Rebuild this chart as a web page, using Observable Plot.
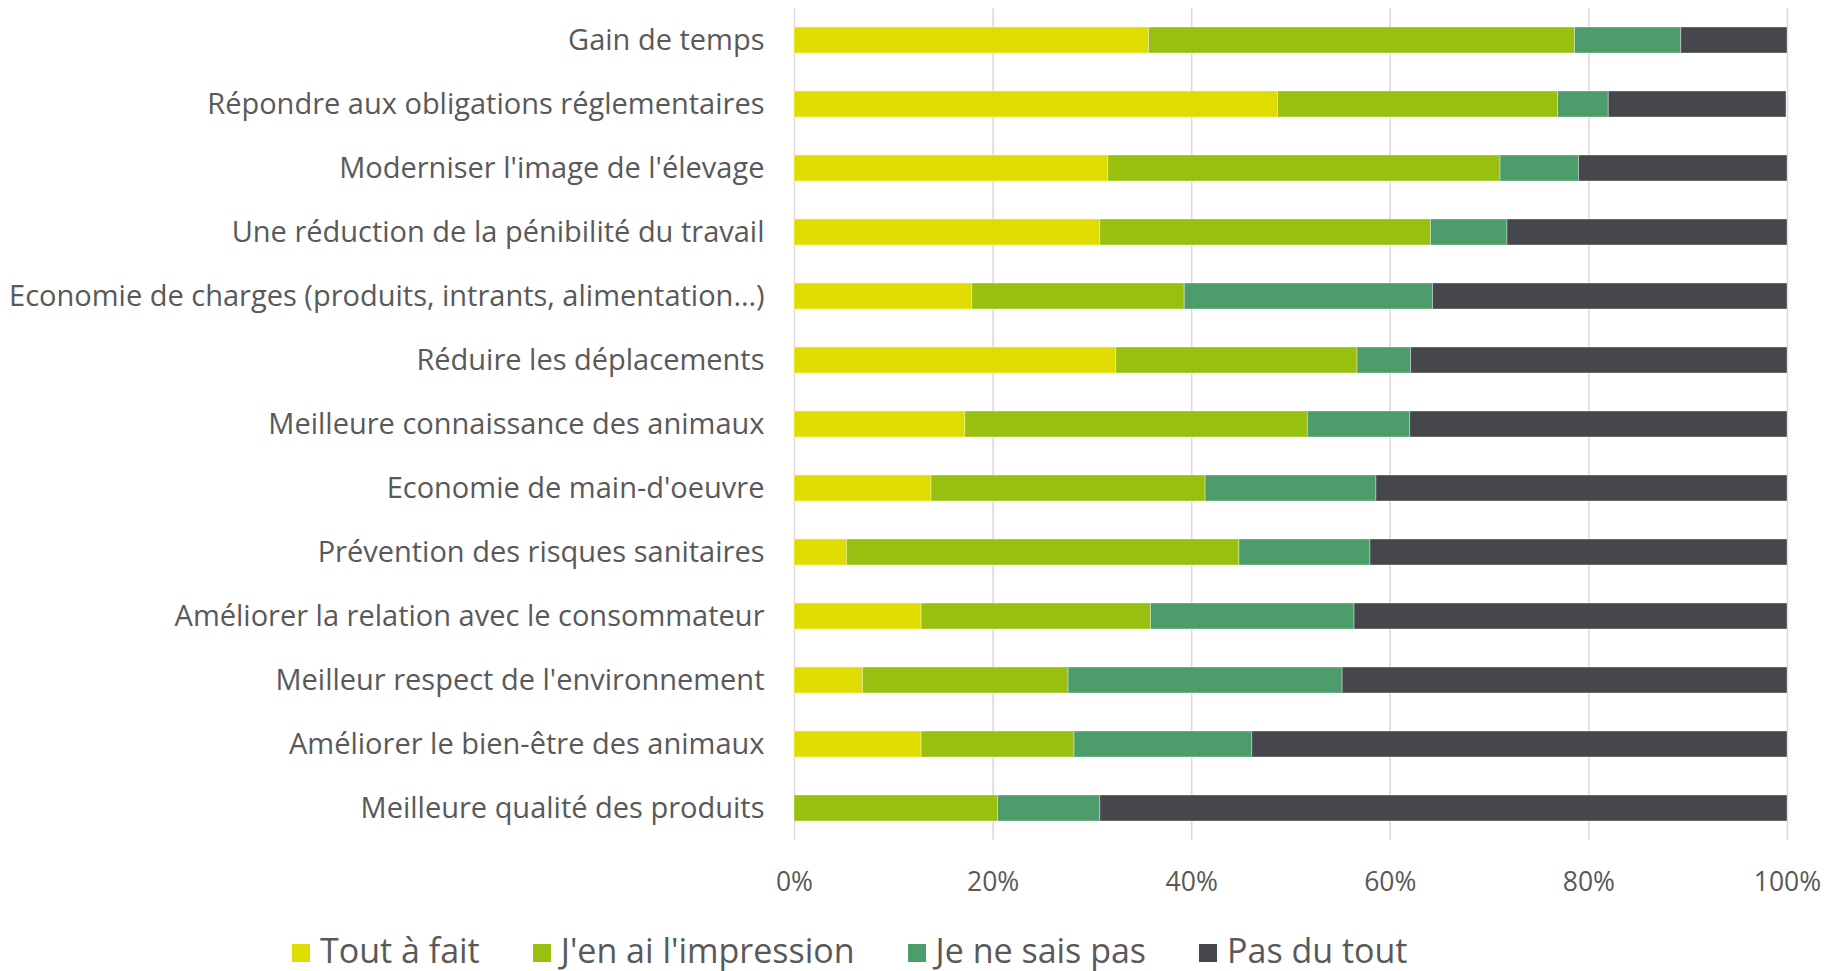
<!DOCTYPE html>
<html>
<head>
<meta charset="utf-8">
<script src="https://cdn.jsdelivr.net/npm/d3@7"></script>
<script src="https://cdn.jsdelivr.net/npm/@observablehq/plot@0.6"></script>
<style>
  html, body { margin: 0; padding: 0; background: #fff; }
  #wrap { position: relative; width: 1837px; height: 971px; font-family: "Open Sans", sans-serif; }
  #legend { position: absolute; top: 927px; left: 292px; display: flex; align-items: center; font-size: 34px; line-height: normal; color: #595959; white-space: nowrap; }
  .item { display: flex; align-items: center; margin-right: 53px; }
  .sw { width: 18px; height: 18px; margin-right: 10px; margin-top: 6px; }
</style>
</head>
<body>
<div id="wrap">
  <div id="chart"></div>
  <div id="legend"></div>
</div>
<script>
const categories = [
  "Gain de temps",
  "Répondre aux obligations réglementaires",
  "Moderniser l'image de l'élevage",
  "Une réduction de la pénibilité du travail",
  "Economie de charges (produits, intrants, alimentation…)",
  "Réduire les déplacements",
  "Meilleure connaissance des animaux",
  "Economie de main-d'oeuvre",
  "Prévention des risques sanitaires",
  "Améliorer la relation avec le consommateur",
  "Meilleur respect de l'environnement",
  "Améliorer le bien-être des animaux",
  "Meilleure qualité des produits"
];
const series = ["Tout à fait", "J'en ai l'impression", "Je ne sais pas", "Pas du tout"];
const colors = ["#dedc00", "#99bf0f", "#4d9c6c", "#46474c"];

const toutAFait  = [35.7, 48.7, 31.6, 30.8, 17.9, 32.4, 17.2, 13.8,  5.3, 12.8,  6.9, 12.8,  0.0];
const jenAi      = [42.9, 28.2, 39.5, 33.3, 21.4, 24.3, 34.5, 27.6, 39.5, 23.1, 20.7, 15.4, 20.5];
const neSaisPas  = [10.7,  5.1,  7.9,  7.7, 25.0,  5.4, 10.3, 17.2, 13.2, 20.5, 27.6, 17.9, 10.3];
const pasDuTout  = [10.7, 17.9, 21.0, 28.2, 35.7, 37.9, 38.0, 41.4, 42.0, 43.6, 44.8, 53.9, 69.2];

const xTicks = [0, 20, 40, 60, 80, 100];

const valuesBySeries = [toutAFait, jenAi, neSaisPas, pasDuTout];
const data = [];
categories.forEach((c, i) => {
  series.forEach((s, j) => {
    data.push({ category: c, series: s, value: valuesBySeries[j][i] });
  });
});

const chart = Plot.plot({
  width: 1837,
  height: 915,
  marginTop: 8,
  marginBottom: 75,
  marginLeft: 794,
  marginRight: 50,
  style: { fontFamily: "Open Sans, sans-serif", color: "#595959", background: "#fff" },
  x: { domain: [0, 100], ticks: xTicks, label: null },
  y: { domain: categories, paddingInner: 0.6, paddingOuter: 0.3, label: null },
  color: { domain: series, range: colors },
  marks: [
    Plot.gridX(xTicks, { stroke: "#d9d9d9", strokeOpacity: 1, strokeWidth: 1.5 }),
    Plot.barX(data, Plot.stackX({
      x: "value", y: "category", fill: "series", order: series,
      stroke: "#ffffff", strokeOpacity: 0.35, strokeWidth: 1
    })),
    Plot.axisX({ ticks: xTicks, tickSize: 0, tickPadding: 32, fontSize: 26.5, tickFormat: d => d + "%", label: null, color: "#595959" }),
    Plot.axisY({ tickSize: 0, tickPadding: 30, fontSize: 29, label: null, color: "#595959" })
  ]
});
document.getElementById("chart").appendChild(chart);

const legend = document.getElementById("legend");
series.forEach((s, j) => {
  const item = document.createElement("div");
  item.className = "item";
  const sw = document.createElement("div");
  sw.className = "sw";
  sw.style.background = colors[j];
  const t = document.createElement("span");
  t.textContent = s;
  item.appendChild(sw);
  item.appendChild(t);
  legend.appendChild(item);
});
</script>
</body>
</html>
